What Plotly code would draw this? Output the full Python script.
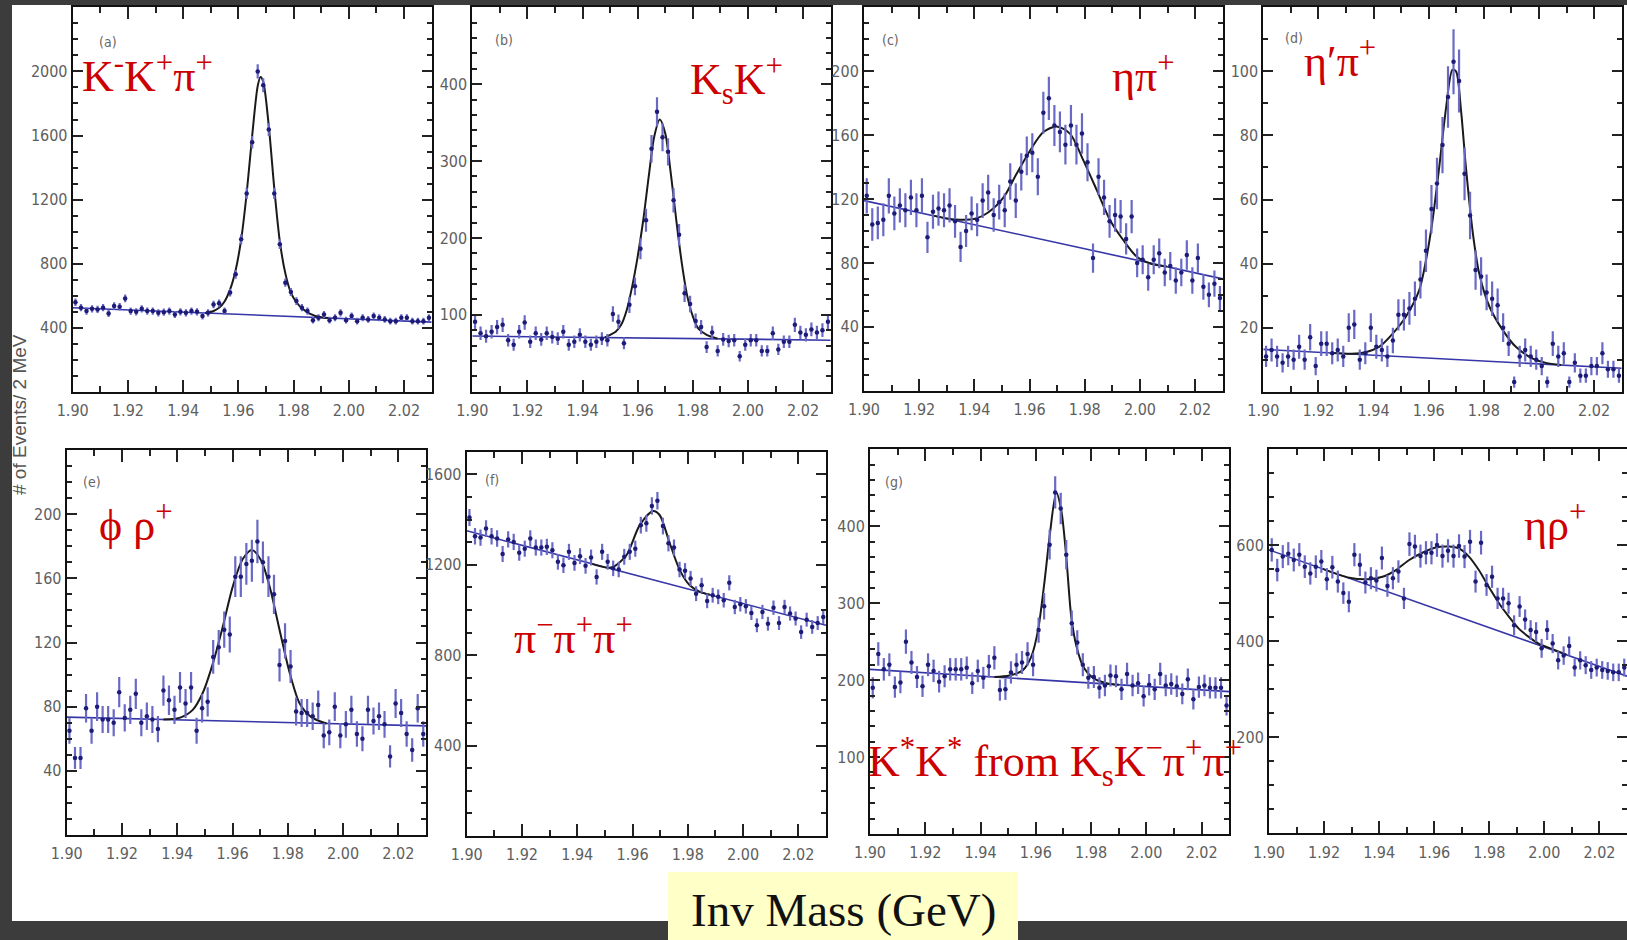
import numpy as np
import plotly.graph_objects as go

W, H = 1627, 940

# ---------------- binning / axis values ----------------
bin_lo, bin_w, n_bins = 1.900, 0.002, 65
mass = np.round(bin_lo + bin_w * (np.arange(n_bins) + 0.5), 4)
x_range = [1.90, 2.03]
x_tick_vals = [1.90, 1.92, 1.94, 1.96, 1.98, 2.00, 2.02]
x_tick_text = ["1.90", "1.92", "1.94", "1.96", "1.98", "2.00", "2.02"]

# ---------------- data: events per 2 MeV bin ----------------
counts_a = [560, 526, 505, 519, 515, 526, 490, 536, 532, 584, 505, 500, 519, 505, 505, 494, 498, 505, 484, 500,
            494, 505, 500, 474, 494, 546, 553, 505, 620, 734, 953, 1239, 1558, 2000, 1913, 1638, 1239, 922, 682, 624,
            567, 526, 505, 448, 463, 484, 448, 463, 494, 448, 474, 442, 463, 453, 474, 463, 453, 442, 442, 463,
            463, 442, 442, 442, 463]
counts_b = [91, 76, 72, 78, 84, 87, 67, 61, 78, 90, 65, 76, 68, 76, 71, 69, 78, 61, 65, 74,
            65, 61, 65, 69, 67, 101, 91, 63, 113, 137, 186, 223, 316, 364, 331, 312, 249, 204, 128, 114,
            92, 84, 58, 77, 53, 68, 66, 67, 46, 61, 67, 67, 53, 53, 76, 55, 65, 65, 87, 77,
            74, 81, 77, 80, 91]
counts_c = [122, 104, 105, 107, 122, 111, 116, 113, 121, 113, 122, 96, 112, 114, 113, 116, 106, 90, 100, 111,
            107, 119, 124, 110, 118, 113, 131, 119, 137, 147, 149, 134, 174, 183, 166, 162, 154, 166, 154, 161,
            143, 83, 134, 121, 106, 110, 109, 95, 109, 80, 82, 71, 82, 86, 74, 78, 69, 74, 85, 69,
            83, 65, 60, 67, 58]
counts_d = [11, 13, 11, 9, 11, 10, 14, 10, 17, 8, 15, 15, 12, 13, 11, 20, 21, 10, 12, 20,
            14, 13, 11, 16, 24, 24, 26, 29, 35, 44, 57, 65, 77, 92, 103, 97, 68, 55, 38, 36,
            31, 29, 27, 20, 15, 3, 11, 13, 11, 10, 8, 3, 15, 11, 12, 3, 9, 5, 5, 8,
            8, 12, 7, 7, 5]
counts_e = [65, 48, 48, 79, 65, 80, 72, 72, 70, 89, 73, 78, 88, 70, 74, 72, 66, 90, 84, 78,
            92, 82, 92, 65, 79, 83, 111, 117, 128, 125, 161, 161, 169, 171, 183, 170, 161, 150, 106, 121,
            105, 77, 76, 76, 74, 81, 62, 64, 80, 62, 69, 78, 63, 60, 78, 71, 74, 69, 49, 82,
            76, 63, 53, 79, 63]
counts_f = [1409, 1326, 1320, 1360, 1326, 1316, 1247, 1312, 1301, 1253, 1271, 1316, 1276, 1276, 1279, 1264, 1213, 1198, 1257, 1208,
            1238, 1195, 1232, 1146, 1257, 1213, 1184, 1179, 1235, 1257, 1271, 1375, 1383, 1460, 1483, 1371, 1295, 1276, 1179, 1173,
            1139, 1072, 1109, 1040, 1065, 1058, 1043, 1120, 1013, 1025, 1016, 987, 932, 991, 939, 1010, 942, 1013, 984, 962,
            902, 957, 925, 942, 969]
counts_g = [190, 234, 214, 220, 191, 197, 250, 223, 204, 192, 220, 212, 198, 205, 214, 214, 214, 216, 196, 212,
            203, 218, 229, 187, 188, 210, 220, 223, 234, 220, 265, 296, 376, 444, 423, 363, 274, 249, 220, 203,
            204, 190, 193, 206, 205, 188, 208, 193, 196, 179, 194, 188, 208, 193, 195, 192, 182, 201, 175, 191,
            193, 190, 190, 190, 167]
counts_h = [590, 548, 576, 582, 569, 580, 555, 541, 555, 566, 529, 554, 524, 500, 482, 580, 559, 522, 531, 526,
            573, 515, 531, 545, 489, 602, 597, 577, 584, 584, 600, 577, 588, 577, 598, 576, 607, 524, 605, 517,
            534, 489, 489, 479, 433, 472, 445, 423, 419, 385, 423, 395, 360, 370, 390, 345, 360, 350, 340, 345,
            340, 338, 335, 335, 345]

# ---------------- background lines (value at 1.90 and at 2.03) ----------------
bkg_x = [1.90, 2.03]
bkg_a = [526, 436]
bkg_b = [72.4, 67]
bkg_c = [119, 70]
bkg_d = [13.2, 7.3]
bkg_e = [73.5, 68]
bkg_f = [1350, 932]
bkg_g = [214, 185]
bkg_h = [590, 327]

# ---------------- fitted curves ----------------
fit_a_x = [1.948, 1.951, 1.953, 1.955, 1.957, 1.959, 1.961, 1.963, 1.965, 1.967, 1.968, 1.969, 1.971, 1.973, 1.975, 1.977, 1.979, 1.981, 1.983, 1.986, 1.990, 1.993]
fit_a_y = [493, 505, 525, 565, 640, 760, 950, 1240, 1600, 1910, 1965, 1935, 1660, 1270, 940, 740, 620, 560, 523, 488, 466, 462]
fit_b_x = [1.948, 1.950, 1.952, 1.954, 1.956, 1.958, 1.960, 1.962, 1.964, 1.966, 1.968, 1.970, 1.972, 1.974, 1.976, 1.978, 1.980, 1.982, 1.985, 1.989]
fit_b_y = [70.4, 74, 78, 87, 106, 137, 176, 223, 280, 332, 354, 336, 284, 223, 167, 124, 98, 82, 74, 69]
fit_c_x = [1.925, 1.932, 1.9399, 1.9451, 1.9505, 1.9553, 1.9602, 1.9650, 1.9698, 1.9747, 1.9795, 1.9844, 1.9892, 1.9940, 1.9989, 2.0037, 2.0097]
fit_c_y = [109.6, 107.4, 107.5, 111.7, 120.8, 135.8, 150.4, 161.9, 165.4, 160.8, 144.2, 125.4, 106.7, 94.2, 83.8, 79.6, 77.7]
fit_d_x = [1.925, 1.935, 1.942, 1.947, 1.9517, 1.9566, 1.959, 1.9614, 1.9638, 1.9662, 1.9686, 1.9699, 1.9717, 1.9735, 1.976, 1.9783, 1.982, 1.9868, 1.9916, 1.9976, 2.0025, 2.008]
fit_d_y = [12.1, 12.0, 14, 18.2, 23.4, 31.8, 41, 53.6, 70, 88, 100.5, 100, 88, 70, 49.5, 37, 26.6, 19.3, 14, 10.4, 9, 8.3]
fit_e_x = [1.935, 1.9408, 1.9456, 1.9492, 1.9529, 1.9565, 1.9601, 1.9637, 1.967, 1.9704, 1.9734, 1.977, 1.9807, 1.9843, 1.9885, 1.994]
fit_e_y = [72.0, 73, 78, 88.5, 107, 130, 155, 172, 177.7, 171, 155, 128, 101, 82, 73.5, 69.5]
fit_f_x = [1.945, 1.9509, 1.953, 1.9578, 1.9626, 1.9674, 1.9698, 1.9735, 1.9771, 1.9807, 1.9844, 1.988]
fit_f_y = [1205, 1187, 1190, 1242, 1375, 1438, 1420, 1294, 1176, 1109, 1080, 1067]
fit_g_x = [1.945, 1.9505, 1.9553, 1.9584, 1.9608, 1.9632, 1.965, 1.9674, 1.9692, 1.971, 1.9728, 1.9747, 1.9771, 1.9807, 1.9856, 1.99]
fit_g_y = [204, 206, 213, 231, 265, 330, 387, 444, 421, 361, 283, 244, 218, 203, 196, 194]
fit_h_x = [1.9195, 1.9292, 1.9364, 1.9412, 1.9461, 1.9509, 1.9557, 1.9605, 1.9654, 1.969, 1.9726, 1.9762, 1.9798, 1.9835, 1.9871, 1.9907, 1.9943, 1.9979, 2.0027, 2.008]
fit_h_y = [550.5, 532, 529, 534, 548, 569, 584, 595, 597, 593, 576, 548, 513, 479, 451, 426, 409, 395, 384, 372]

# ---------------- y-axis tick values ----------------
yticks_a = [400, 800, 1200, 1600, 2000]
yticks_b = [100, 200, 300, 400]
yticks_c = [40, 80, 120, 160, 200]
yticks_d = [20, 40, 60, 80, 100]
yticks_e = [40, 80, 120, 160, 200]
yticks_f = [400, 800, 1200, 1600]
yticks_g = [100, 200, 300, 400]
yticks_h = [200, 400, 600]

# ---------------- labels ----------------
letters = ["(a)", "(b)", "(c)", "(d)", "(e)", "(f)", "(g)", ""]
channel_labels = [
    "K<sup>-</sup>K<sup>+</sup>π<sup>+</sup>",
    "K<sub>s</sub>K<sup>+</sup>",
    "ηπ<sup>+</sup>",
    "η′π<sup>+</sup>",
    "ϕ ρ<sup>+</sup>",
    "π<sup>−</sup>π<sup>+</sup>π<sup>+</sup>",
    "K<sup>*</sup>K<sup>*</sup> from K<sub>s</sub>K<sup>−</sup>π<sup>+</sup>π<sup>+</sup>",
    "ηρ<sup>+</sup>",
]
y_title = "# of Events/ 2 MeV"
x_title = "Inv Mass (GeV)"

# ---------------- layout geometry (pixels) ----------------
boxes = [  # left, top, right, bottom
    (72.7, 7.3, 431.7, 392.0),
    (472.3, 7.3, 830.7, 391.7),
    (864.0, 7.3, 1222.7, 390.7),
    (1263.3, 7.3, 1621.7, 391.7),
    (66.7, 450.0, 426.0, 835.0),
    (466.7, 451.7, 826.0, 836.0),
    (870.0, 449.3, 1229.3, 834.0),
    (1269.0, 449.0, 1627.0, 833.3),
]
y_max = [2400, 500, 240, 120, 240, 1700, 500, 800]
y_minor = [100, 20, 10, 10, 10, 100, 20, 50]
letter_pos = [(108, 42), (504, 40), (891, 40), (1294, 38), (92, 482), (492, 480), (894, 482), (0, 0)]
label_pos = [(80, 73), (688, 80), (1110, 73), (1302, 58), (97, 522), (512, 635), (866, 762), (1522, 522)]

counts_all = [counts_a, counts_b, counts_c, counts_d, counts_e, counts_f, counts_g, counts_h]
bkg_all = [bkg_a, bkg_b, bkg_c, bkg_d, bkg_e, bkg_f, bkg_g, bkg_h]
fitx_all = [fit_a_x, fit_b_x, fit_c_x, fit_d_x, fit_e_x, fit_f_x, fit_g_x, fit_h_x]
fity_all = [fit_a_y, fit_b_y, fit_c_y, fit_d_y, fit_e_y, fit_f_y, fit_g_y, fit_h_y]
yticks_all = [yticks_a, yticks_b, yticks_c, yticks_d, yticks_e, yticks_f, yticks_g, yticks_h]


def fx(p):
    return p / W


def fy(p):
    return 1 - p / H


TICK_FONT = dict(family="Liberation Sans Narrow, Arial Narrow, DejaVu Sans Condensed, sans-serif", size=16, color="#5e5e5e")
RED_FONT = dict(family="Liberation Serif, Times New Roman, serif", size=44, color="#cc0000")

fig = go.Figure()
layout = dict(
    width=W, height=H, margin=dict(l=0, r=0, t=0, b=0, pad=0, autoexpand=False),
    paper_bgcolor="#3c3c3c", plot_bgcolor="white", showlegend=False,
)
annotations = []

for i in range(8):
    n = i + 1
    xs = "x" if n == 1 else f"x{n}"
    ys = "y" if n == 1 else f"y{n}"
    l, t, r, b = boxes[i]
    counts = np.array(counts_all[i], dtype=float)

    fig.add_trace(go.Scatter(x=bkg_x, y=bkg_all[i], mode="lines", xaxis=xs, yaxis=ys,
                             line=dict(color="#3636a8", width=1.6), hoverinfo="skip"))
    fig.add_trace(go.Scatter(x=fitx_all[i], y=fity_all[i], mode="lines", xaxis=xs, yaxis=ys,
                             line=dict(color="#1a1a1a", width=2, shape="spline", smoothing=0.8), hoverinfo="skip"))
    fig.add_trace(go.Scatter(x=mass, y=counts, mode="markers", xaxis=xs, yaxis=ys,
                             marker=dict(color="#1c1c78", size=4.5),
                             error_y=dict(type="data", array=np.sqrt(counts), color="#6a6ac6",
                                          thickness=2.2, width=0)))

    common = dict(showline=True, linecolor="#111111", linewidth=2, mirror="ticks", ticks="inside",
                  tickcolor="#222222", tickwidth=2, showgrid=False, zeroline=False, tickfont=TICK_FONT,
                  automargin=False)
    layout["xaxis" if n == 1 else f"xaxis{n}"] = dict(
        common, domain=[fx(l), fx(r)], anchor=ys, range=x_range,
        tickmode="array", tickvals=x_tick_vals, ticktext=x_tick_text, ticklen=12, ticklabelstandoff=3,
        minor=dict(dtick=0.01, tick0=1.90, ticks="inside", ticklen=6, tickcolor="#222222", tickwidth=1.5),
    )
    layout["yaxis" if n == 1 else f"yaxis{n}"] = dict(
        common, domain=[fy(b), fy(t)], anchor=xs, range=[0, y_max[i]],
        tickmode="array", tickvals=yticks_all[i], ticktext=[str(v) for v in yticks_all[i]], ticklen=10,
        minor=dict(dtick=y_minor[i], tick0=0, ticks="inside", ticklen=5, tickcolor="#222222", tickwidth=1.5),
    )

    if letters[i]:
        lx, ly = letter_pos[i]
        annotations.append(dict(text=letters[i], x=fx(lx), y=fy(ly), xref="paper", yref="paper",
                                showarrow=False, xanchor="center", yanchor="middle",
                                font=dict(family=TICK_FONT["family"], size=14, color="#666666")))
    cx, cy = label_pos[i]
    annotations.append(dict(text=channel_labels[i], x=fx(cx), y=fy(cy), xref="paper", yref="paper",
                            showarrow=False, xanchor="left", yanchor="middle", font=RED_FONT))

annotations.append(dict(text=y_title, x=fx(20), y=fy(415), xref="paper", yref="paper", textangle=-90,
                        showarrow=False, xanchor="center", yanchor="middle",
                        font=dict(family="Liberation Sans, Arial, sans-serif", size=19, color="#555555")))
annotations.append(dict(text=x_title, x=fx(843), y=fy(910), xref="paper", yref="paper",
                        showarrow=False, xanchor="center", yanchor="middle",
                        font=dict(family="Liberation Serif, Times New Roman, serif", size=47, color="#111111")))

layout["annotations"] = annotations
layout["shapes"] = [
    dict(type="rect", xref="paper", yref="paper", x0=fx(12), x1=1, y0=fy(921), y1=fy(5),
         fillcolor="white", line=dict(width=0), layer="below"),
    dict(type="rect", xref="paper", yref="paper", x0=fx(668), x1=fx(1018), y0=0, y1=fy(872),
         fillcolor="#ffffc8", line=dict(width=0), layer="below"),
]
fig.update_layout(**layout)

fig.write_html("out.html", config={"displayModeBar": False},
               post_script="document.body.style.margin='0';document.body.style.overflow='hidden';")
